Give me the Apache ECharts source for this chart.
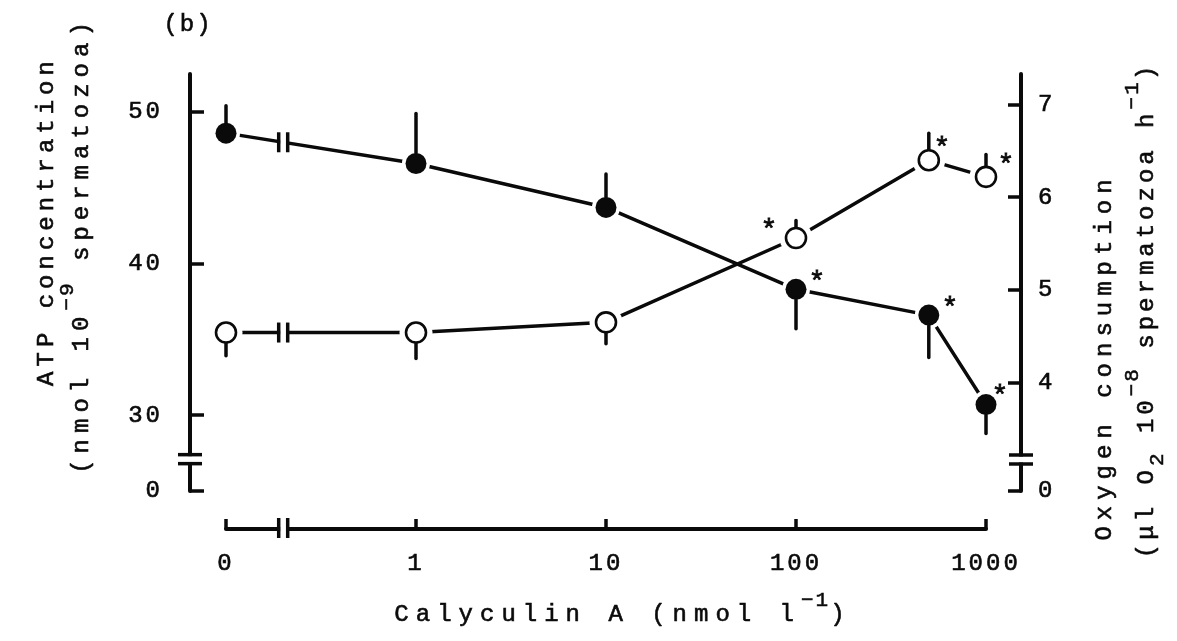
<!DOCTYPE html>
<html><head><meta charset="utf-8">
<script src="https://cdn.jsdelivr.net/npm/echarts@6/dist/echarts.min.js"></script>
<style>html,body{margin:0;padding:0;background:#fff}#c{width:1177px;height:641px}</style>
</head><body><div id="c"></div>
<script>
// typewriter-like letter spacing: font families tagged "lsN" get N px spacing
(function(){
  const P = CanvasRenderingContext2D.prototype;
  const d = Object.getOwnPropertyDescriptor(P, 'font');
  Object.defineProperty(P, 'font', {
    configurable: true,
    get(){ return d.get.call(this); },
    set(v){ d.set.call(this, v); const m = /ls(\d+)/.exec(v); if ('letterSpacing' in this) this.letterSpacing = m ? m[1] + 'px' : '0px'; }
  });
})();

// ---------------- data ----------------
const CONC = [0, 1, 10, 100, 500, 1000];          // Calyculin A (nmol l-1)
const ZERO_POS = 0.1;                              // where dose "0" sits on the broken log axis
const X_TICKS = ['0', '1', '10', '100', '1000'];
const ATP = [48.6, 46.6, 43.7, 38.3, 36.6, 30.7];  // ATP concentration (filled)
const ATP_SEM = [1.8, 3.3, 2.2, 2.6, 2.8, 1.9];
const ATP_SEM_DIR = [1, 1, 1, -1, -1, -1];
const ATP_SIG = [0, 0, 0, 1, 1, 1];
const O2 = [4.54, 4.54, 4.65, 5.56, 6.40, 6.22];   // oxygen consumption (open)
const O2_SEM = [0.25, 0.28, 0.23, 0.19, 0.29, 0.24];
const O2_SEM_DIR = [-1, -1, -1, 1, 1, 1];
const O2_SIG = [0, 0, 0, 1, 1, 1];
const ATP_TICKS = [30, 40, 50];
const O2_TICKS = [4, 5, 6, 7];
const ATP_AXIS_ZERO = 25;     // broken-axis position standing for 0
const O2_AXIS_ZERO = 2.83;
const ATP_AXIS_MAX = 52.5;
const O2_AXIS_MAX = 7.33;

// ---------------- style ----------------
const FONT = n => "'Liberation Mono', ls" + n;
const INK = '#0a0a0a';
const X_OFF = 38, YL_OFF = 36, YR_OFF = 35;
const X_BREAK = 0.2, ATP_BREAK = 27.1, O2_BREAK = 3.17;
const ATP_STAR_OFF = [[0,0],[0,0],[0,0],[21,-7],[21,-7],[14,-8]];
const O2_STAR_OFF = [[0,0],[0,0],[0,0],[-27,-7],[13,-12],[20,-11]];
const R = 10.5;

const xPos = c => c === 0 ? ZERO_POS : c;
const chart = echarts.init(document.getElementById('c'), null, {renderer: 'canvas'});

function errSeries(vals, sem, dir, yIdx){
  return {
    type: 'custom', coordinateSystem: 'cartesian2d', xAxisIndex: 0, yAxisIndex: yIdx, z: 3, silent: true,
    data: CONC.map((c, i) => [xPos(c), vals[i], vals[i] + dir[i] * sem[i]]),
    renderItem(params, api){
      const c = api.coord([api.value(0), api.value(1)]);
      const t = api.coord([api.value(0), api.value(2)]);
      const s = Math.sign(t[1] - c[1]);
      return {type: 'line', shape: {x1: c[0], y1: c[1] + s * R, x2: t[0], y2: t[1]},
        style: {stroke: INK, lineWidth: 3.5, lineCap: 'round'}};
    }
  };
}
function starData(vals, sig, off){
  return CONC.map((c, i) => ({
    value: [xPos(c), vals[i]],
    label: {show: !!sig[i], formatter: '*', position: 'inside', offset: off[i],
      fontSize: 28, fontFamily: "'Liberation Mono'", color: INK, textBorderColor: INK, textBorderWidth: 0.8}
  }));
}

const tickLabelStyle = {fontSize: 24, fontFamily: FONT(3), color: INK, textBorderColor: INK, textBorderWidth: 0.6};

chart.setOption({
  animation: false,
  backgroundColor: '#fff',
  grid: {left: 226, right: 191, top: 74, bottom: 150, containLabel: false},
  xAxis: {
    type: 'log', logBase: 10, min: ZERO_POS, max: 1000, splitNumber: 4, offset: X_OFF,
    axisLine: {lineStyle: {color: INK, width: 4}},
    axisTick: {inside: true, length: 10, lineStyle: {color: INK, width: 3.5}},
    minorTick: {show: false},
    axisLabel: Object.assign({margin: 21, formatter: v => X_TICKS[Math.round(Math.log10(v)) + 1]}, tickLabelStyle),
    splitLine: {show: false}
  },
  yAxis: [{
    type: 'value', position: 'left', offset: YL_OFF, min: ATP_AXIS_ZERO, max: ATP_AXIS_MAX,
    axisLine: {show: true, lineStyle: {color: INK, width: 4}},
    axisTick: {show: true, inside: true, length: 14, lineStyle: {color: INK, width: 3.5},
      customValues: [ATP_AXIS_ZERO].concat(ATP_TICKS)},
    axisLabel: Object.assign({margin: 27, customValues: [ATP_AXIS_ZERO].concat(ATP_TICKS),
      formatter: v => v === ATP_AXIS_ZERO ? '0' : String(v)}, tickLabelStyle),
    splitLine: {show: false}
  }, {
    type: 'value', position: 'right', offset: YR_OFF, min: O2_AXIS_ZERO, max: O2_AXIS_MAX,
    axisLine: {show: true, lineStyle: {color: INK, width: 4}},
    axisTick: {show: true, inside: true, length: 13, lineStyle: {color: INK, width: 3.5},
      customValues: [O2_AXIS_ZERO].concat(O2_TICKS)},
    axisLabel: Object.assign({margin: 17, customValues: [O2_AXIS_ZERO].concat(O2_TICKS),
      formatter: v => v === O2_AXIS_ZERO ? '0' : String(v)}, tickLabelStyle),
    splitLine: {show: false}
  }],
  series: [
    {type: 'line', yAxisIndex: 0, z: 2, data: CONC.map((c, i) => [xPos(c), ATP[i]]),
      lineStyle: {color: INK, width: 3.5}, symbol: 'circle', symbolSize: 28,
      itemStyle: {color: '#fff', borderWidth: 0}, silent: true},
    {type: 'line', yAxisIndex: 1, z: 2, data: CONC.map((c, i) => [xPos(c), O2[i]]),
      lineStyle: {color: INK, width: 3.5}, symbol: 'circle', symbolSize: 33,
      itemStyle: {color: '#fff', borderWidth: 0}, silent: true},
    errSeries(ATP, ATP_SEM, ATP_SEM_DIR, 0),
    errSeries(O2, O2_SEM, O2_SEM_DIR, 1),
    {type: 'scatter', yAxisIndex: 0, z: 4, symbol: 'circle', symbolSize: 21,
      itemStyle: {color: INK, opacity: 1}, data: starData(ATP, ATP_SIG, ATP_STAR_OFF)},
    {type: 'scatter', yAxisIndex: 1, z: 4, symbol: 'circle', symbolSize: 20,
      itemStyle: {color: '#fff', borderColor: INK, borderWidth: 2.6, opacity: 1}, data: starData(O2, O2_SIG, O2_STAR_OFF)}
  ]
});

// ---------------- axis / line breaks and titles ----------------
(function(){
  const g = [];
  const xb = chart.convertToPixel({xAxisIndex: 0}, X_BREAK);
  const gridBottom = chart.convertToPixel({yAxisIndex: 0}, ATP_AXIS_ZERO);
  const xAxisY = gridBottom + X_OFF;
  const leftX = chart.convertToPixel({xAxisIndex: 0}, ZERO_POS) - YL_OFF;
  const rightX = chart.convertToPixel({xAxisIndex: 0}, 1000) + YR_OFF;
  const H = 4.5;
  function vBreak(cx, cy, len){
    g.push({type: 'rect', z: 100, shape: {x: cx - H + 1.5, y: cy - 4, width: 2 * H - 3, height: 8}, style: {fill: '#fff'}});
    [-H, H].forEach(d => g.push({type: 'line', z: 101,
      shape: {x1: cx + d, y1: cy - len, x2: cx + d, y2: cy + len}, style: {stroke: INK, lineWidth: 3.5}}));
  }
  function hBreak(cx, cy, len){
    g.push({type: 'rect', z: 100, shape: {x: cx - 4, y: cy - H + 1.5, width: 8, height: 2 * H - 3}, style: {fill: '#fff'}});
    [-H, H].forEach(d => g.push({type: 'line', z: 101,
      shape: {x1: cx - len, y1: cy + d, x2: cx + len, y2: cy + d}, style: {stroke: INK, lineWidth: 3.5}}));
  }
  vBreak(xb, xAxisY - 1, 10);
  hBreak(leftX, chart.convertToPixel({yAxisIndex: 0}, ATP_BREAK), 12);
  hBreak(rightX, chart.convertToPixel({yAxisIndex: 1}, O2_BREAK), 12);
  [[0, ATP], [1, O2]].forEach(([si, vals]) => {
    const p0 = chart.convertToPixel({seriesIndex: si}, [xPos(CONC[0]), vals[0]]);
    const p1 = chart.convertToPixel({seriesIndex: si}, [xPos(CONC[1]), vals[1]]);
    const y = p0[1] + (xb - p0[0]) / (p1[0] - p0[0]) * (p1[1] - p0[1]);
    vBreak(xb, y, 10);
  });

  const sup = {fontSize: 21, fontFamily: FONT(2), padding: [0, 0, 30, 0], fill: INK, stroke: INK, lineWidth: 0.5};
  const sub = {fontSize: 21, fontFamily: FONT(2), padding: [20, 0, 0, 0], fill: INK, stroke: INK, lineWidth: 0.5};
  const txt = (x, y, text, ls, rot, rich) => g.push({type: 'text', x, y, rotation: rot || 0, z: 110,
    style: {text, fill: INK, fontSize: 24, fontFamily: FONT(ls), align: 'center', verticalAlign: 'middle',
      stroke: INK, lineWidth: 0.6, rich: rich || {}}});
  txt(188, 25, '(b)', 2);
  txt(47, 221, 'ATP concentration', 5, Math.PI / 2);
  txt(82, 245, '(nmol 10{sup|\u22129} spermatozoa)', 6, Math.PI / 2, {sup});
  txt(1105, 357, 'Oxygen consumption', 6, Math.PI / 2);
  txt(1147, 310, '(\u03bcl O{sub|2} 10{sup|\u22128} spermatozoa h{sup|\u22121})', 4, Math.PI / 2, {sup, sub});
  txt(623, 615, 'Calyculin A (nmol l{sup|\u22121})', 7, 0, {sup});
  chart.setOption({graphic: g});
})();
</script>
</body></html>
